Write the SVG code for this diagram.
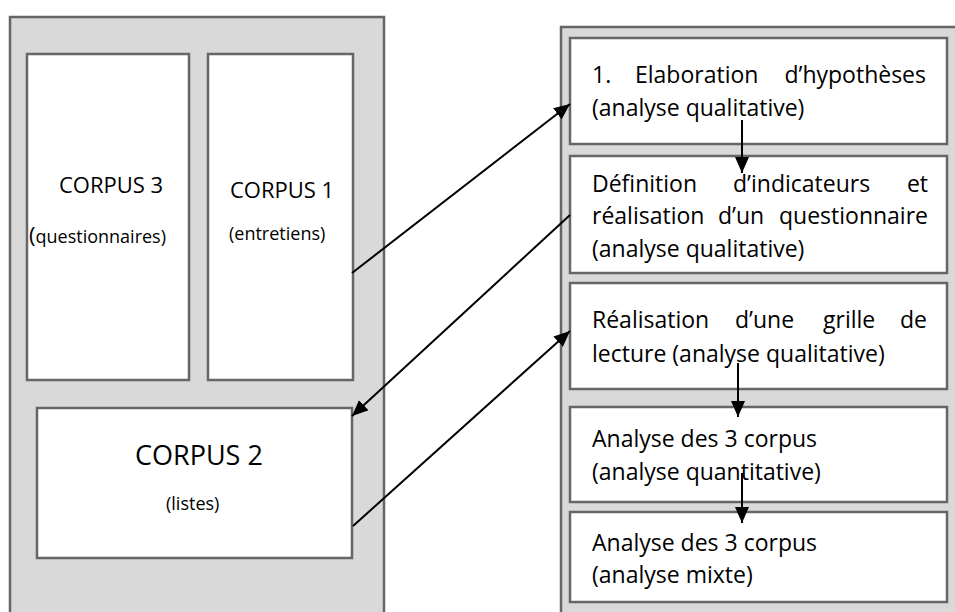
<svg xmlns="http://www.w3.org/2000/svg" width="955" height="612" viewBox="0 0 955 612">
<defs>
<style>
.panel{fill:#d9d9d9;stroke:#666;stroke-width:2.5}
.box{fill:#fff;stroke:#666;stroke-width:2.5}
.t{font-family:"Open Sans","Liberation Sans",sans-serif;fill:#000}
.big{font-size:22px}
.small{font-size:18px}
.r{font-size:23px}
.arr{stroke:#000;stroke-width:2;fill:none;marker-end:url(#ah)}
</style>
<marker id="ah" markerUnits="userSpaceOnUse" markerWidth="16" markerHeight="14" refX="16" refY="7" orient="auto">
<path d="M0,0 L16,7 L0,14 Z" fill="#000"/>
</marker>
</defs>
<rect class="panel" x="10" y="17" width="374" height="610"/>
<rect class="panel" x="561" y="27" width="410" height="600"/>
<g id="corpus3">
<rect class="box" x="27" y="54" width="162" height="326"/>
<text class="t big" x="59" y="193">CORPUS 3</text>
<text class="t small" x="29" y="243"><tspan font-size="22px">(</tspan>questionnaires)</text>
</g>
<g id="corpus1">
<rect class="box" x="208" y="54" width="145" height="326"/>
<text class="t big" x="230" y="198">CORPUS 1</text>
<text class="t small" x="229" y="240">(entretiens)</text>
</g>
<g id="corpus2">
<rect class="box" x="37" y="408" width="315" height="150"/>
<text class="t" font-size="27px" x="135" y="465">CORPUS 2</text>
<text class="t small" x="166" y="510">(listes)</text>
</g>
<g id="step1">
<rect class="box" x="570" y="38" width="377" height="106"/>
<text class="t r" y="83"><tspan x="592">1.</tspan><tspan x="635">Elaboration</tspan><tspan x="926" text-anchor="end">d’hypothèses</tspan></text>
<text class="t r" x="592" y="116">(analyse qualitative)</text>
</g>
<g id="step2">
<rect class="box" x="570" y="156" width="377" height="117"/>
<text class="t r" y="192"><tspan x="592">Définition</tspan><tspan x="733">d’indicateurs</tspan><tspan x="928" text-anchor="end">et</tspan></text>
<text class="t r" y="224"><tspan x="592">réalisation</tspan><tspan x="718">d’un</tspan><tspan x="928" text-anchor="end">questionnaire</tspan></text>
<text class="t r" x="592" y="257">(analyse qualitative)</text>
</g>
<g id="step3">
<rect class="box" x="570" y="283" width="377" height="106"/>
<text class="t r" y="328"><tspan x="592">Réalisation</tspan><tspan x="735">d’une</tspan><tspan x="823">grille</tspan><tspan x="927" text-anchor="end">de</tspan></text>
<text class="t r" x="592" y="362">lecture (analyse qualitative)</text>
</g>
<g id="step4">
<rect class="box" x="570" y="407" width="377" height="95"/>
<text class="t r" x="592" y="447">Analyse des 3 corpus</text>
<text class="t r" x="592" y="480">(analyse quantitative)</text>
</g>
<g id="step5">
<rect class="box" x="570" y="512" width="377" height="90"/>
<text class="t r" x="592" y="551">Analyse des 3 corpus</text>
<text class="t r" x="592" y="583">(analyse mixte)</text>
</g>
<g id="connectors">
<line class="arr" x1="352" y1="273" x2="570" y2="104"/>
<line class="arr" x1="570" y1="215" x2="352" y2="416"/>
<line class="arr" x1="353" y1="526" x2="570" y2="331"/>
<line class="arr" x1="742" y1="120" x2="742" y2="173"/>
<line class="arr" x1="738" y1="363" x2="738" y2="417"/>
<line class="arr" x1="742" y1="473" x2="742" y2="523"/>
</g>
</svg>
